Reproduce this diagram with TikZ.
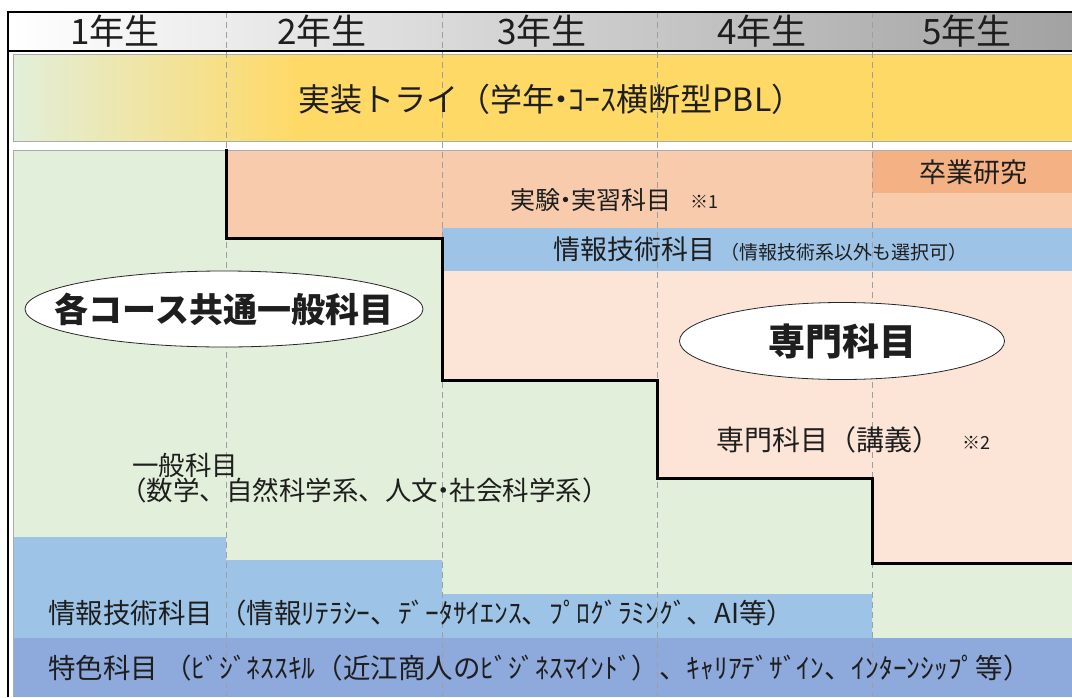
\documentclass[tikz,border=0pt]{standalone}
\usepackage{fontspec}
\setmainfont{Noto Sans CJK JP}
\usetikzlibrary{shapes.geometric}
\definecolor{bggreen}{HTML}{E2EFDA}
\definecolor{salmon}{HTML}{F8CBAD}
\definecolor{peach}{HTML}{FCE4D6}
\definecolor{gradorange}{HTML}{F4B183}
\definecolor{infoblue}{HTML}{9DC3E6}
\definecolor{featblue}{HTML}{8EA9DB}
\definecolor{yband}{HTML}{FFD966}
\definecolor{ink}{HTML}{1E1E1E}
\definecolor{hdrgray}{HTML}{A2A2A2}
\newcommand{\fs}[1]{\fontsize{#1}{#1}\selectfont}
\newcommand{\nd}{\kern-0.28em・\kern-0.28em}
\begin{document}
\begin{tikzpicture}[x=1pt,y=-1pt,
  lbl/.style={inner sep=0pt, text=ink},
  colsep/.style={gray!75, line width=0.6pt, dash pattern=on 6pt off 4pt},
  stair/.style={black, line width=3pt},
  frameline/.style={black, line width=1.5pt},
  bubble/.style={ellipse, draw=black!85, line width=0.8pt, fill=white, inner sep=0pt}]
\useasboundingbox (0,0) rectangle (1072,697);
\fill[white] (0,0) rectangle (1072,697);
% header
\shade[left color=white, right color=hdrgray] (8,12) rectangle (1072,51);
% yellow band
\shade[left color=bggreen, right color=yband] (13,54) rectangle (300,141);
\fill[yband] (299,54) rectangle (1072,141);
\draw[gray!65, line width=0.8pt] (1072,54) -- (13,54) -- (13,141) -- (1072,141);
% main area
\fill[bggreen] (13,150) rectangle (1072,697);
% specialised area
\fill[peach] (226,150) -- (1072,150) -- (1072,563) -- (872,563) -- (872,478) -- (657,478)
  -- (657,380) -- (442,380) -- (442,238) -- (226,238) -- cycle;
\fill[salmon] (226,150) rectangle (1072,228);
\fill[salmon] (226,150) rectangle (442,238);
\fill[infoblue] (442,228) rectangle (1072,271);
\fill[gradorange] (872,150) rectangle (1072,193);
% lower bands
\fill[infoblue] (13,537) -- (226,537) -- (226,560) -- (442,560) -- (442,594) -- (872,594)
  -- (872,638) -- (13,638) -- cycle;
\fill[featblue] (13,638) rectangle (1072,697);
\draw[gray!65, line width=0.8pt] (1072,150) -- (13,150) -- (13,697);
% column separators
\foreach \cx in {226,442,657,872} \draw[colsep] (\cx,12) -- (\cx,697);
% staircase
\draw[stair] (226,149) -- (226,238) -- (442,238) -- (442,380) -- (657,380) -- (657,478)
  -- (872,478) -- (872,563) -- (1072,563);
% frame
\draw[frameline] (8,697) -- (8,12) -- (1072,12);
\draw[frameline] (8,51) -- (1072,51);
% header texts
\node[lbl, font=\fs{35}] (y1) at (115,31) {1年生};
\node[lbl, font=\fs{35}] (y2) at (322,31) {2年生};
\node[lbl, font=\fs{35}] (y3) at (542,31) {3年生};
\node[lbl, font=\fs{35}] (y4) at (762,31) {4年生};
\node[lbl, font=\fs{35}] (y5) at (967,31) {5年生};
% band texts
\node[lbl, font=\fs{32}] (pbl) at (551,99) {実装トライ（学年\nd ｺｰｽ横断型PBL）};
\node[lbl, font=\fs{27}] (sotsu) at (973,172) {卒業研究};
\node[lbl, font=\fs{25}, anchor=west] (jikken) at (510,200) {実験\nd 実習科目};
\node[lbl, font=\fs{18}, anchor=west] (n1) at (690,202) {※1};
\node[lbl, font=\fs{27}, anchor=west] (joho) at (553,249) {情報技術科目};
\node[lbl, font=\fs{19}, anchor=west] (johosub) at (720,252) {（情報技術系以外も選択可）};
% ellipses
\node[bubble, minimum width=398pt, minimum height=76pt] (commonE) at (224,309) {};
\node[lbl, font=\bfseries\fs{34}] (common) at (commonE) {各コース共通一般科目};
\node[bubble, minimum width=325pt, minimum height=77pt] (senmonE) at (842,341) {};
\node[lbl, font=\bfseries\fs{37}] (senmon) at (senmonE) {専門科目};
% lecture / general
\node[lbl, font=\fs{28}, anchor=west] (kogi) at (716,440) {専門科目（講義）};
\node[lbl, font=\fs{18}, anchor=west] (n2) at (962,443) {※2};
\node[lbl, font=\fs{26.5}, anchor=west] (ippan) at (132,465) {一般科目};
\node[lbl, font=\fs{26.5}, anchor=west] (ippansub) at (120,490) {（数学、自然科学系、人文\nd 社会科学系）};
% bottom bands
\node[lbl, font=\fs{27.5}, anchor=west] (johoit) at (48,613) {情報技術科目 （情報ﾘﾃﾗｼｰ、ﾃﾞｰﾀｻｲｴﾝｽ、ﾌﾟﾛｸﾞﾗﾐﾝｸﾞ、AI等）};
\node[lbl, font=\fs{27.5}, anchor=west] (tokushoku) at (48,668) {特色科目 （ﾋﾞｼﾞﾈｽｽｷﾙ（近江商人のﾋﾞｼﾞﾈｽﾏｲﾝﾄﾞ）、ｷｬﾘｱﾃﾞｻﾞｲﾝ、ｲﾝﾀｰﾝｼｯﾌﾟ等）};
\end{tikzpicture}
\end{document}
